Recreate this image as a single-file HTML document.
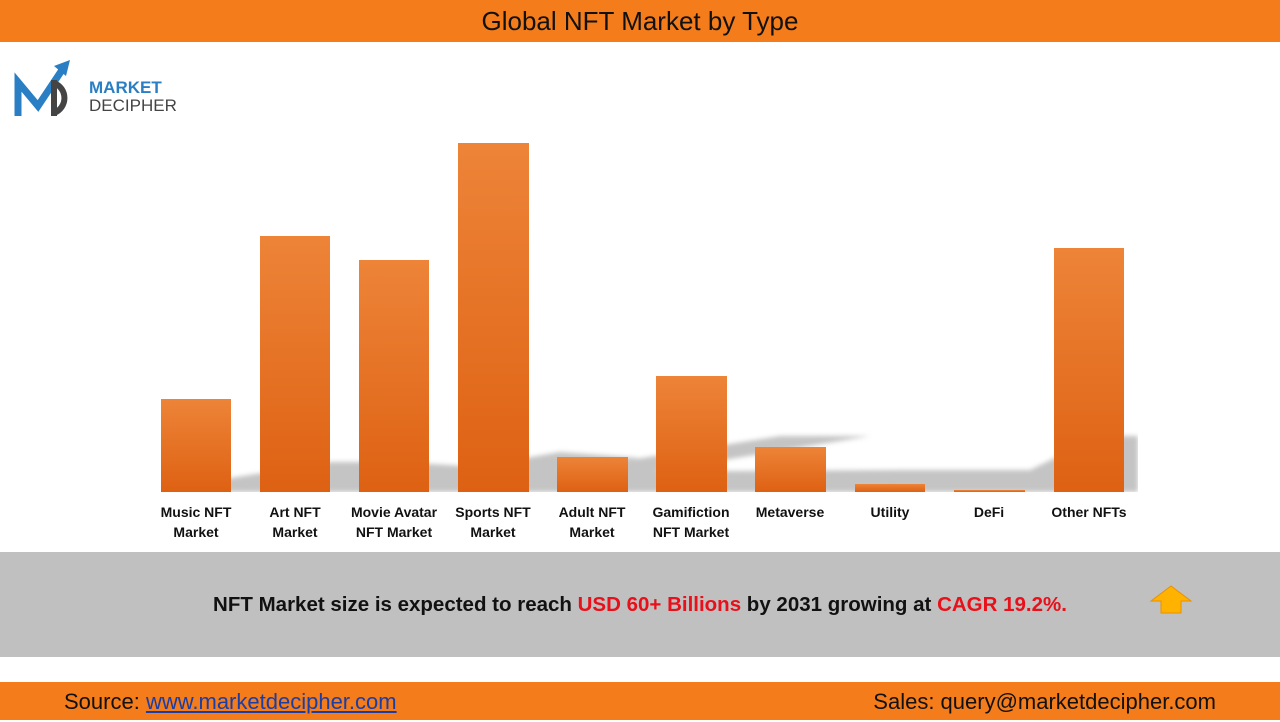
<!DOCTYPE html>
<html><head><meta charset="utf-8"><style>
body{margin:0;width:1280px;height:720px;position:relative;background:#fff;font-family:"Liberation Sans",Calibri,sans-serif;overflow:hidden}
.top{position:absolute;left:0;top:0;width:1280px;height:42px;background:#f47c1a;text-align:center;font-size:26px;line-height:42px;color:#111}
.lbl{position:absolute;top:502px;width:110px;text-align:center;font-size:14px;font-weight:bold;line-height:20px;color:#111}
.band{position:absolute;left:0;top:552px;width:1280px;height:105px;background:#c0c0c0}
.band p{margin:0;position:absolute;left:0;width:1280px;top:41px;text-align:center;font-size:20.5px;font-weight:bold;color:#111}
.red{color:#e8101a}
.foot{position:absolute;left:0;top:682px;width:1280px;height:38px;background:#f47c1a;font-size:22px;line-height:40px;color:#111}
</style></head><body>
<div class="top">Global NFT Market by Type</div>
<svg style="position:absolute;left:0;top:0" width="1280" height="720">
<defs>
<linearGradient id="g" x1="0" y1="0" x2="0" y2="1"><stop offset="0" stop-color="#ed8438"/><stop offset="1" stop-color="#de6113"/></linearGradient>
<filter id="b"><feGaussianBlur stdDeviation="2.5"/></filter>
<clipPath id="c"><rect x="0" y="0" width="1138" height="492"/></clipPath>
</defs>
<g clip-path="url(#c)" filter="url(#b)" fill="#c4c4c4">
<polygon points="200,492 1138,492 1138,436 1100,436 1030,470 900,470 560,472 400,462 330,462 231,478"/>
<polygon points="330,492 429,492 640,458 560,452"/>
<polygon points="429,492 529,492 870,436 780,436"/>
</g>
<g fill="url(#g)">
<rect x="161" y="399" width="70" height="93"/>
<rect x="260" y="236" width="70" height="256"/>
<rect x="359" y="260" width="70" height="232"/>
<rect x="458" y="143" width="71" height="349"/>
<rect x="557" y="457" width="71" height="35"/>
<rect x="656" y="376" width="71" height="116"/>
<rect x="755" y="447" width="71" height="45"/>
<rect x="855" y="484" width="70" height="8"/>
<rect x="954" y="490" width="71" height="2"/>
<rect x="1054" y="248" width="70" height="244"/>
</g>
<!-- logo -->
<path d="M18,116 L18,82 L38,106 L62,70" fill="none" stroke="#2a7fc4" stroke-width="7"/>
<polygon points="54,66 70,60 66,76" fill="#2a7fc4"/>
<path d="M54,80 L54,116 M54,83 A16,16 0 0 1 54,113" fill="none" stroke="#444" stroke-width="6"/>
<text x="89" y="93" font-size="17" font-weight="bold" fill="#2a7fc4" font-family="Liberation Sans">MARKET</text>
<text x="89" y="111" font-size="17" fill="#444" font-family="Liberation Sans">DECIPHER</text>
<polygon points="1151,601 1171,586 1191,601 1181,601 1181,613 1161,613 1161,601" fill="#ffb300" stroke="#e89000" stroke-width="1"/>
</svg>
<div class="lbl" style="left:141px">Music NFT<br>Market</div>
<div class="lbl" style="left:240px">Art NFT<br>Market</div>
<div class="lbl" style="left:339px">Movie Avatar<br>NFT Market</div>
<div class="lbl" style="left:438px">Sports NFT<br>Market</div>
<div class="lbl" style="left:537px">Adult NFT<br>Market</div>
<div class="lbl" style="left:636px">Gamifiction<br>NFT Market</div>
<div class="lbl" style="left:735px">Metaverse</div>
<div class="lbl" style="left:835px">Utility</div>
<div class="lbl" style="left:934px">DeFi</div>
<div class="lbl" style="left:1034px">Other NFTs</div>
<div class="band"><p>NFT Market size is expected to reach <span class="red">USD 60+ Billions</span> by 2031 growing at <span class="red">CAGR 19.2%.</span></p></div>
<svg style="position:absolute;left:0;top:0" width="1280" height="720"><polygon points="1151,601 1171,586 1191,601 1181,601 1181,613 1161,613 1161,601" fill="#ffb300" stroke="#e89000" stroke-width="1"/></svg>
<div class="foot"><span style="position:absolute;left:64px">Source: <span style="color:#1a3ea8;text-decoration:underline">www.marketdecipher.com</span></span><span style="position:absolute;right:64px">Sales: query@marketdecipher.com</span></div>
</body></html>
